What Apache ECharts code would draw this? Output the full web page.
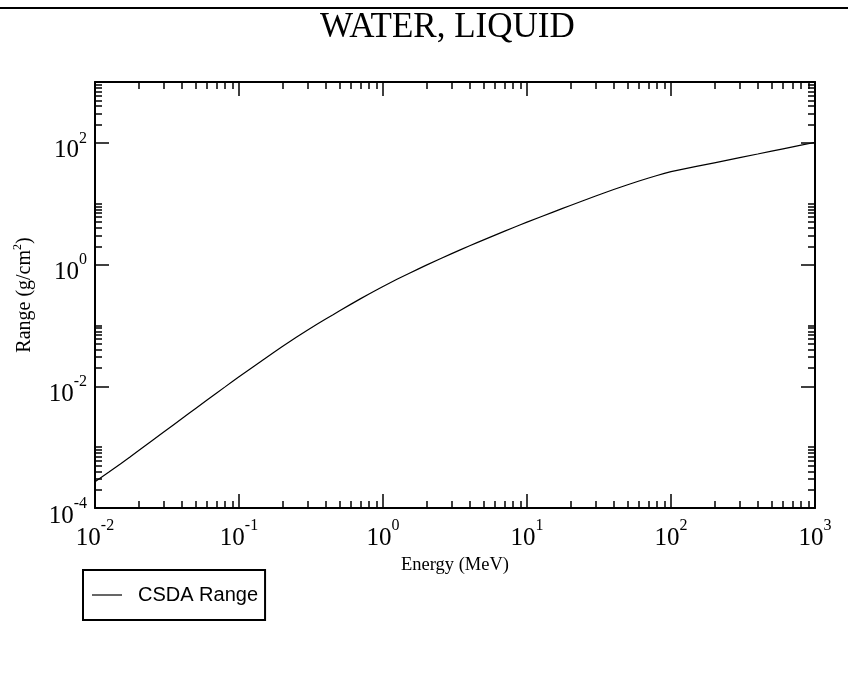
<!DOCTYPE html>
<html><head><meta charset="utf-8">
<script src="https://cdn.jsdelivr.net/npm/echarts@6/dist/echarts.min.js"></script>
<style>html,body{margin:0;padding:0;background:#fff}#c{width:848px;height:683px}</style>
</head><body><div id="c"></div>
<script>
const chartTitle = 'WATER, LIQUID';
const seriesName = 'CSDA Range';
const xAxisName = 'Energy (MeV)';
const energy = [0.01,0.0125,0.015,0.0175,0.02,0.025,0.03,0.035,0.04,0.045,0.05,0.06,0.07,0.08,0.09,
  0.1,0.125,0.15,0.175,0.2,0.25,0.3,0.35,0.4,0.45,0.5,0.6,0.7,0.8,0.9,
  1,1.25,1.5,1.75,2,2.5,3,3.5,4,4.5,5,6,7,8,9,
  10,12.5,15,17.5,20,25,30,35,40,45,50,60,70,80,90,
  100,150,200,300,400,500,600,700,800,900,1000];
const csdaRange = [2.7e-4,3.9e-4,5.3e-4,6.9e-4,8.7e-4,1.29e-3,1.77e-3,2.32e-3,2.93e-3,3.6e-3,4.33e-3,5.95e-3,7.77e-3,9.78e-3,1.20e-2,
  1.43e-2,2.08e-2,2.82e-2,3.62e-2,4.49e-2,6.39e-2,8.42e-2,0.1054,0.1274,0.1499,0.1743,0.2240,0.2755,0.3285,0.3820,
  0.4367,0.572,0.707,0.842,0.9785,1.248,1.514,1.777,2.037,2.295,2.550,3.052,3.545,4.030,4.506,
  4.975,6.117,7.219,8.29,9.35,11.40,13.39,15.29,17.11,18.84,20.50,23.59,26.44,29.07,31.50,
  33.73,41.0,47.0,57.2,65.6,73.0,79.7,85.8,91.5,96.8,101.9];
const xMajorTicks = [0.01,0.1,1,10,100,1000];
const xMinorTicks = [0.02,0.03,0.04,0.05,0.06,0.07,0.08,0.09,
  0.2,0.3,0.4,0.5,0.6,0.7,0.8,0.9,
  2,3,4,5,6,7,8,9,
  20,30,40,50,60,70,80,90,
  200,300,400,500,600,700,800,900];
const yMajorTicks = [1e-4,1e-2,1,100];
const yMinorTicks = [2e-4,3e-4,4e-4,5e-4,6e-4,7e-4,8e-4,9e-4,1e-3,
  0.02,0.03,0.04,0.05,0.06,0.07,0.08,0.09,0.1,
  2,3,4,5,6,7,8,9,10,
  200,300,400,500,600,700,800,900,1000];

const serif = 'Liberation Serif';
const labelRich = {
  b:{fontFamily:serif,fontSize:25,lineHeight:25,padding:[16,0,0,0],color:'#000'},
  s:{fontFamily:serif,fontSize:16,lineHeight:16,padding:[0,0,0,0],verticalAlign:'top',color:'#000'}
};
function powLabel(v){ return '{b|10}{s|' + Math.round(Math.log10(v)) + '}'; }

function axis(dim, position, ticks, len, withLine, withLabel, extra){
  const isX = dim === 'x';
  const a = {
    type:'log', logBase:10, position:position, gridIndex:0,
    min: isX ? 0.01 : 1e-4, max: 1000,
    axisLine:{show:withLine, onZero:false, lineStyle:{color:'#000', width:2}},
    axisTick:{show:true, inside:true, length:len, customValues:ticks, lineStyle:{color:'#000', width:1.5}},
    axisLabel: withLabel ? {show:true, customValues:ticks, margin:isX?10:8, formatter:powLabel, rich:labelRich, color:'#000'} : {show:false},
    splitLine:{show:false}, minorTick:{show:false}, minorSplitLine:{show:false}
  };
  return Object.assign(a, extra || {});
}

const chart = echarts.init(document.getElementById('c'), null, {renderer:'canvas'});
chart.setOption({
  animation:false,
  backgroundColor:'#fff',
  title:{text:chartTitle, left:315, top:5, textStyle:{fontFamily:serif, fontSize:35, fontWeight:'normal', color:'#000'}},
  graphic:[{type:'rect', left:0, top:7, shape:{width:848, height:2}, style:{fill:'#000'}}],
  grid:{left:95, top:82, width:720, height:426, containLabel:false},
  legend:{data:[{name:seriesName, icon:'rect'}], left:83, top:570, orient:'horizontal', padding:[15,7,15,9],
    borderColor:'#000', borderWidth:2, borderRadius:0, itemWidth:30, itemHeight:1.2,
    itemStyle:{color:'#000'},
    textStyle:{fontFamily:'Liberation Sans', fontSize:20, color:'#000', padding:[0,0,0,11]}},
  xAxis:[
    axis('x','bottom',xMajorTicks,14,true,true,{name:xAxisName, nameLocation:'middle', nameGap:42,
      nameTextStyle:{fontFamily:serif, fontSize:18.5, color:'#000'}}),
    axis('x','bottom',xMinorTicks,7,false,false),
    axis('x','top',xMajorTicks,14,true,false),
    axis('x','top',xMinorTicks,7,false,false)
  ],
  yAxis:[
    axis('y','left',yMajorTicks,14,true,true,{name:'{a|Range (g/cm}{s|2}{a|)}', nameLocation:'middle', nameGap:63,
      nameTextStyle:{color:'#000', rich:{
        a:{fontFamily:serif, fontSize:20, lineHeight:20, padding:[6,0,0,0], color:'#000'},
        s:{fontFamily:serif, fontSize:12, lineHeight:12, verticalAlign:'top', color:'#000'}}}}),
    axis('y','left',yMinorTicks,7,false,false),
    axis('y','right',yMajorTicks,14,true,false),
    axis('y','right',yMinorTicks,7,false,false)
  ],
  series:[{
    name:seriesName, type:'line', xAxisIndex:0, yAxisIndex:0,
    symbol:'none', showSymbol:false, smooth:false,
    lineStyle:{color:'#000', width:1.2},
    itemStyle:{color:'#000'},
    data: energy.map((e,i)=>[e, csdaRange[i]])
  }]
});
</script>
</body></html>
